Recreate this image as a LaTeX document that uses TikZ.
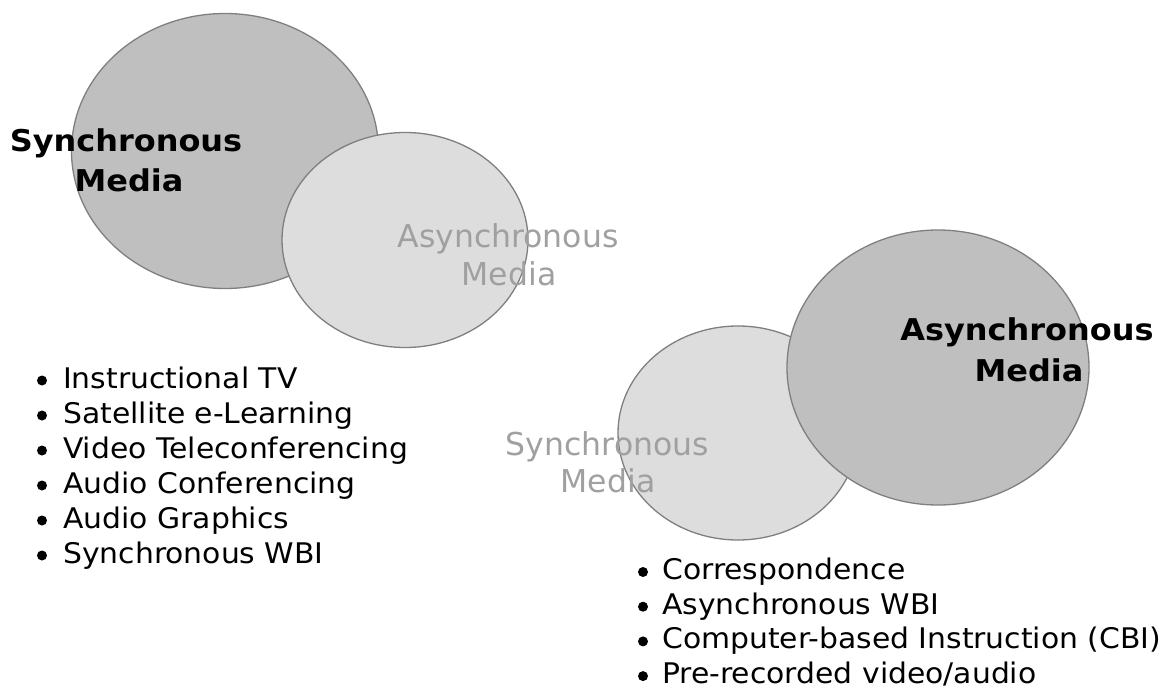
\documentclass[tikz,border=0pt]{standalone}
\usepackage{fontspec}
\setmainfont{DejaVu Sans}
\newfontfamily\widesans[FakeStretch=1.065]{DejaVu Sans}
\newfontfamily\listsans[FakeStretch=1.05]{DejaVu Sans}
\usetikzlibrary{shapes.geometric}
\definecolor{darkfill}{HTML}{BFBFBF}
\definecolor{lightfill}{HTML}{DDDDDD}
\definecolor{edgegray}{HTML}{7F7F7F}
\definecolor{faintgray}{HTML}{A0A0A0}
\tikzset{
  bigcirc/.style={ellipse, draw=edgegray, line width=1.3pt, fill=darkfill, inner sep=0pt,
    minimum width=307pt, minimum height=275pt},
  smallcirc/.style={ellipse, draw=edgegray, line width=1.3pt, fill=lightfill, inner sep=0pt,
    minimum width=246pt, minimum height=215pt},
  boldlabel/.style={anchor=base, inner sep=0pt, font=\widesans\fontsize{30}{36}\selectfont\bfseries, text=black},
  faintlabel/.style={anchor=base, inner sep=0pt, font=\fontsize{31.5}{38}\selectfont, text=faintgray},
  itemtext/.style={anchor=base west, inner sep=0pt, font=\listsans\fontsize{28.4}{34}\selectfont},
  bulletmark/.style={circle, fill=black, inner sep=0pt, minimum size=10pt},
}
\begin{document}
\begin{tikzpicture}[x=1pt,y=-1pt]
\useasboundingbox (0,0) rectangle (1170,690);
% left pair
\node[bigcirc] (c1) at (225,151) {};
\node[smallcirc] (c2) at (405,240) {};
\node[boldlabel] (s1a) at (126,151.5) {Synchronous};
\node[boldlabel] (s1b) at (129,191) {Media};
\node[faintlabel] (a2a) at (508,247) {Asynchronous};
\node[faintlabel] (a2b) at (509,285) {Media};
% right pair
\node[smallcirc, minimum width=240pt, minimum height=214pt] (c3) at (738,433) {};
\node[bigcirc, minimum width=302pt] (c4) at (938,367.5) {};
\node[boldlabel] (a4a) at (1027,340) {Asynchronous};
\node[boldlabel] (a4b) at (1029,381) {Media};
\node[faintlabel] (s3a) at (607.5,455) {Synchronous};
\node[faintlabel] (s3b) at (608,492) {Media};
% left list
\foreach \t [count=\i from 0] in {Instructional TV, Satellite e-Learning, Video Teleconferencing, Audio Conferencing, Audio Graphics, Synchronous WBI}{
  \node[bulletmark] (lb\i) at (42,380.5+35*\i) {};
  \node[itemtext] (lt\i) at (63,388+35*\i) {\t};
}
% right list
\foreach \t [count=\i from 0] in {Correspondence, Asynchronous WBI, Computer-based Instruction (CBI), Pre-recorded video/audio}{
  \node[bulletmark] (rb\i) at (643,572+34.7*\i) {};
  \node[itemtext] (rt\i) at (662,579.5+34.7*\i) {\t};
}
\end{tikzpicture}
\end{document}
